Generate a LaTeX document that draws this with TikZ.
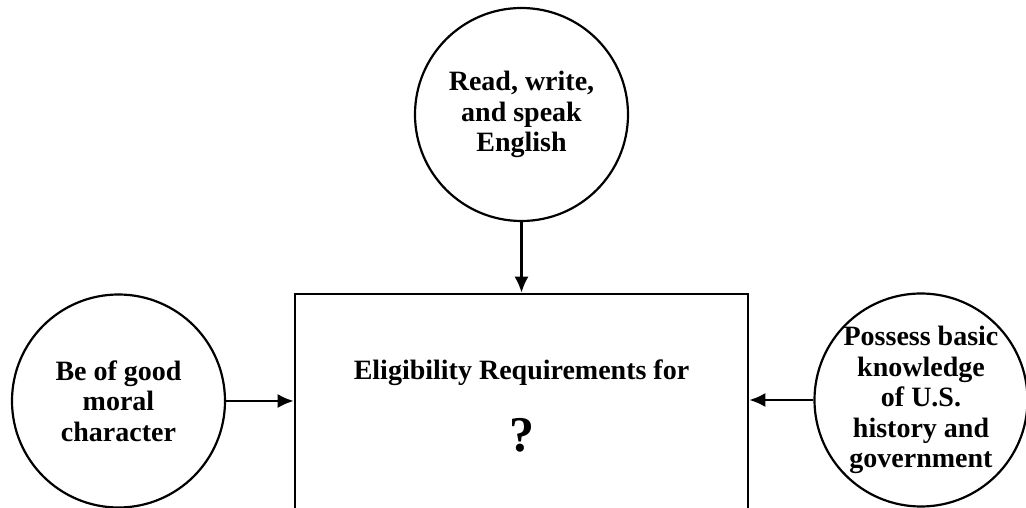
\documentclass[tikz,border=0pt]{standalone}
\usepackage{fontspec}
\setmainfont{Liberation Serif}
\usepackage{tikz}
\usetikzlibrary{arrows.meta, positioning}

\tikzset{
  req/.style={draw, circle, line width=2.2pt, minimum size=213pt, inner sep=0pt},
  reqtext/.style={align=center, font=\fontsize{28}{30.5}\selectfont\bfseries, inner sep=0pt},
  bigbox/.style={draw, line width=2.6pt, minimum width=453pt, minimum height=240pt, inner sep=0pt}
}

\begin{document}
\begin{tikzpicture}[x=1pt, y=1pt, >={Latex[length=16pt, width=14pt]}]
        % Frame
        \clip (0,0) rectangle (1026,508);
        % Box
        \node[bigbox] (box) at (521.5,94) {};
        \node[reqtext, anchor=base] (title) at (521.5,128) {Eligibility Requirements for};
        \node[anchor=base, inner sep=0pt, font=\fontsize{50}{50}\selectfont\bfseries] (qmark) at (521.5,56) {?};
        % Circles
        \node[req] (read) at (521.5,393.5) {};
        \node[reqtext] (readtxt) at (read) {Read, write,\\and speak\\English};
        \node[req] (moral) at (118.5,107) {};
        \node[reqtext] (moraltxt) at (moral) {Be of good\\moral\\character};
        \node[req] (hist) at (921,108) {};
        \node[reqtext] (histtxt) at (hist) {Possess basic\\knowledge\\of U.S.\\history and\\government};
        % Arrows
        \draw[->, line width=2.2pt] (read.south) -- (read.south |- box.north);
        \draw[->, line width=2.2pt] (moral.east) -- (moral.east -| box.west);
        \draw[->, line width=2.2pt] (hist.west) -- (hist.west -| box.east);
    \end{tikzpicture}
\end{document}
